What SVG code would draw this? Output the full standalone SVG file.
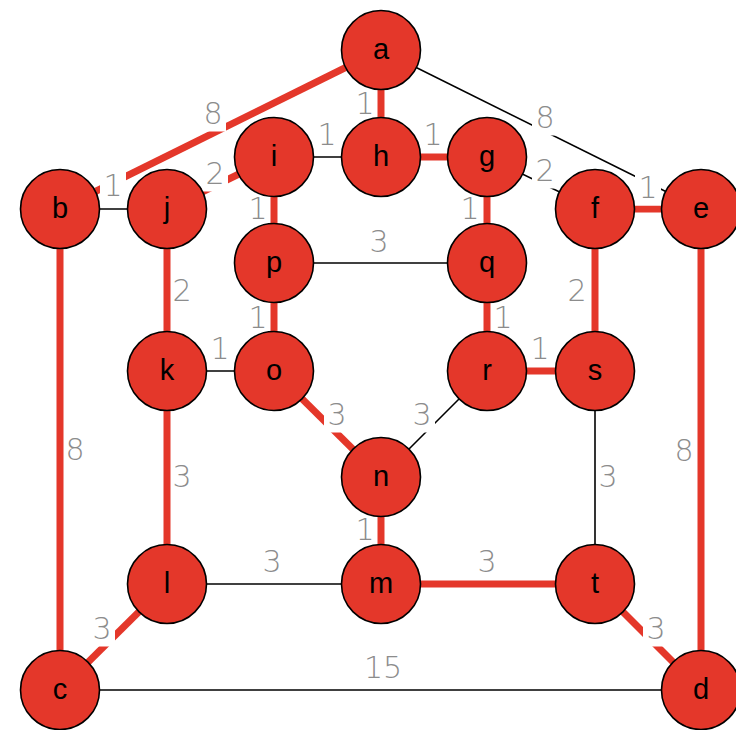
<svg xmlns="http://www.w3.org/2000/svg" width="736" height="730" viewBox="0 0 736 730">
<style>
.e{stroke:#000;stroke-width:1.6;fill:none}
.t{stroke:#e4372a;stroke-width:7;fill:none}
.nd circle{fill:#e4372a;stroke:#000;stroke-width:1.6}
.nd text{font-family:"Liberation Sans",Arial,sans-serif;font-size:29px;text-anchor:middle;fill:#000}
.lb rect{fill:#fff}
.lb text{font-family:"DejaVu Sans","Liberation Sans",sans-serif;font-weight:200;font-size:30px;fill:#8c8c8c;text-anchor:middle}
</style>
<rect width="736" height="730" fill="#fff"/>

<!-- connectors: red = tree edges, black = other edges -->
<g id="edges">
<line class="t" x1="381" y1="50" x2="60" y2="209"/>
<line class="t" x1="381" y1="50" x2="381" y2="157"/>
<line class="e" x1="381" y1="50" x2="701" y2="209"/>
<line class="e" x1="60" y1="209" x2="167" y2="209"/>
<line class="t" x1="60" y1="209" x2="60" y2="690"/>
<line class="t" x1="167" y1="209" x2="274" y2="157"/>
<line class="t" x1="167" y1="209" x2="167" y2="371"/>
<line class="e" x1="274" y1="157" x2="381" y2="157"/>
<line class="t" x1="274" y1="157" x2="274" y2="263"/>
<line class="t" x1="381" y1="157" x2="487" y2="157"/>
<line class="e" x1="487" y1="157" x2="595" y2="209"/>
<line class="t" x1="487" y1="157" x2="487" y2="263"/>
<line class="t" x1="595" y1="209" x2="701" y2="209"/>
<line class="t" x1="595" y1="209" x2="595" y2="371"/>
<line class="t" x1="701" y1="209" x2="701" y2="690"/>
<line class="e" x1="274" y1="263" x2="487" y2="263"/>
<line class="t" x1="274" y1="263" x2="274" y2="371"/>
<line class="t" x1="487" y1="263" x2="487" y2="371"/>
<line class="e" x1="167" y1="371" x2="274" y2="371"/>
<line class="t" x1="167" y1="371" x2="167" y2="584"/>
<line class="t" x1="274" y1="371" x2="381" y2="477"/>
<line class="e" x1="487" y1="371" x2="381" y2="477"/>
<line class="t" x1="487" y1="371" x2="595" y2="371"/>
<line class="e" x1="595" y1="371" x2="595" y2="584"/>
<line class="t" x1="381" y1="477" x2="381" y2="584"/>
<line class="e" x1="167" y1="584" x2="381" y2="584"/>
<line class="t" x1="381" y1="584" x2="595" y2="584"/>
<line class="t" x1="167" y1="584" x2="60" y2="690"/>
<line class="t" x1="595" y1="584" x2="701" y2="690"/>
<line class="e" x1="60" y1="690" x2="701" y2="690"/>
</g>

<!-- edge weights on white boxes -->
<g id="weights" class="lb">
<g><rect x="200" y="96.5" width="26" height="35"/><text x="213" y="123.5">8</text></g>
<g><rect x="352" y="86.5" width="25" height="35"/><text x="365" y="113.5">1</text></g>
<g><rect x="532" y="100.5" width="26" height="35"/><text x="545" y="127.5">8</text></g>
<g><rect x="100" y="168.5" width="26" height="35"/><text x="113" y="195.5">1</text></g>
<g><rect x="65" y="432.5" width="23" height="35"/><text x="75" y="459.5">8</text></g>
<g><rect x="202" y="156.5" width="26" height="35"/><text x="215" y="183.5">2</text></g>
<g><rect x="172" y="273.5" width="23" height="35"/><text x="182" y="300.5">2</text></g>
<g><rect x="314" y="117.5" width="26" height="35"/><text x="327" y="144.5">1</text></g>
<g><rect x="245" y="191.5" width="25" height="35"/><text x="258" y="218.5">1</text></g>
<g><rect x="420" y="117.5" width="26" height="35"/><text x="433" y="144.5">1</text></g>
<g><rect x="532" y="153.5" width="26" height="35"/><text x="545" y="180.5">2</text></g>
<g><rect x="457" y="191.5" width="26" height="35"/><text x="470" y="218.5">1</text></g>
<g><rect x="635" y="170.5" width="26" height="35"/><text x="648" y="197.5">1</text></g>
<g><rect x="564" y="273.5" width="23" height="35"/><text x="577" y="300.5">2</text></g>
<g><rect x="671" y="433.5" width="23" height="35"/><text x="684" y="460.5">8</text></g>
<g><rect x="366" y="224.5" width="26" height="35"/><text x="379" y="251.5">3</text></g>
<g><rect x="245" y="300.5" width="25" height="35"/><text x="258" y="327.5">1</text></g>
<g><rect x="491" y="300.5" width="25" height="35"/><text x="503" y="327.5">1</text></g>
<g><rect x="207" y="331.5" width="26" height="35"/><text x="220" y="358.5">1</text></g>
<g><rect x="172" y="459.5" width="23" height="35"/><text x="182" y="486.5">3</text></g>
<g><rect x="324" y="397.5" width="26" height="35"/><text x="337" y="424.5">3</text></g>
<g><rect x="409" y="397.5" width="26" height="35"/><text x="422" y="424.5">3</text></g>
<g><rect x="527" y="331.5" width="26" height="35"/><text x="540" y="358.5">1</text></g>
<g><rect x="598" y="459.5" width="23" height="35"/><text x="608" y="486.5">3</text></g>
<g><rect x="352" y="512.5" width="25" height="35"/><text x="365" y="539.5">1</text></g>
<g><rect x="259" y="544.5" width="26" height="35"/><text x="272" y="571.5">3</text></g>
<g><rect x="474" y="544.5" width="26" height="35"/><text x="487" y="571.5">3</text></g>
<g><rect x="89" y="611.5" width="26" height="35"/><text x="102" y="638.5">3</text></g>
<g><rect x="643" y="611.5" width="26" height="35"/><text x="656" y="638.5">3</text></g>
<g><rect x="360" y="650.5" width="46" height="35"/><text x="383" y="677.5">15</text></g>
</g>

<!-- nodes -->
<g id="node-a" class="nd"><circle cx="381" cy="50" r="39.5"/><text x="381" y="59">a</text></g>
<g id="node-h" class="nd"><circle cx="381" cy="157" r="39.5"/><text x="381" y="166">h</text></g>
<g id="node-i" class="nd"><circle cx="274" cy="157" r="39.5"/><text x="274" y="166">i</text></g>
<g id="node-g" class="nd"><circle cx="487" cy="157" r="39.5"/><text x="487" y="166">g</text></g>
<g id="node-b" class="nd"><circle cx="60" cy="209" r="39.5"/><text x="60" y="218">b</text></g>
<g id="node-j" class="nd"><circle cx="167" cy="209" r="39.5"/><text x="167" y="218">j</text></g>
<g id="node-f" class="nd"><circle cx="595" cy="209" r="39.5"/><text x="595" y="218">f</text></g>
<g id="node-e" class="nd"><circle cx="701" cy="209" r="39.5"/><text x="701" y="218">e</text></g>
<g id="node-p" class="nd"><circle cx="274" cy="263" r="39.5"/><text x="274" y="272">p</text></g>
<g id="node-q" class="nd"><circle cx="487" cy="263" r="39.5"/><text x="487" y="272">q</text></g>
<g id="node-k" class="nd"><circle cx="167" cy="371" r="39.5"/><text x="167" y="380">k</text></g>
<g id="node-o" class="nd"><circle cx="274" cy="371" r="39.5"/><text x="274" y="380">o</text></g>
<g id="node-r" class="nd"><circle cx="487" cy="371" r="39.5"/><text x="487" y="380">r</text></g>
<g id="node-s" class="nd"><circle cx="595" cy="371" r="39.5"/><text x="595" y="380">s</text></g>
<g id="node-n" class="nd"><circle cx="381" cy="477" r="39.5"/><text x="381" y="486">n</text></g>
<g id="node-l" class="nd"><circle cx="167" cy="584" r="39.5"/><text x="167" y="593">l</text></g>
<g id="node-m" class="nd"><circle cx="381" cy="584" r="39.5"/><text x="381" y="593">m</text></g>
<g id="node-t" class="nd"><circle cx="595" cy="584" r="39.5"/><text x="595" y="593">t</text></g>
<g id="node-c" class="nd"><circle cx="60" cy="690" r="39.5"/><text x="60" y="699">c</text></g>
<g id="node-d" class="nd"><circle cx="701" cy="690" r="39.5"/><text x="701" y="699">d</text></g>
</svg>
